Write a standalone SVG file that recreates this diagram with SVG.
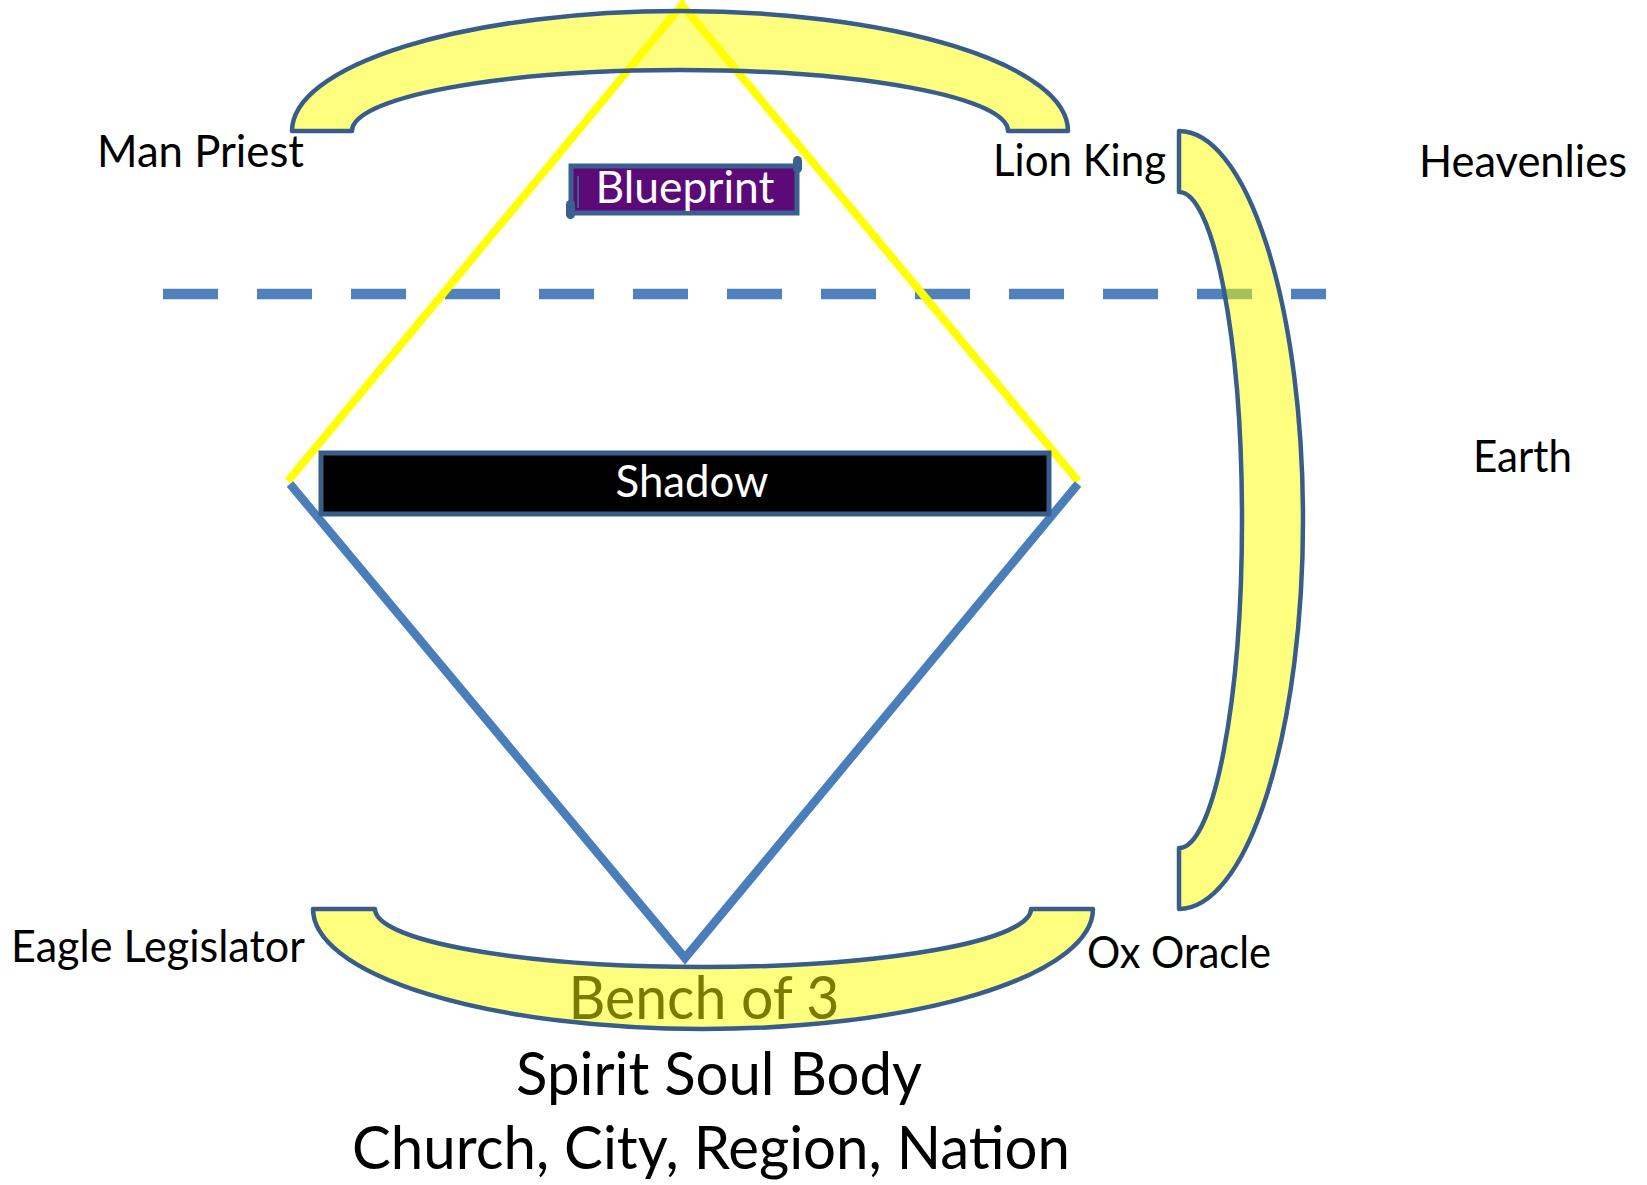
<svg xmlns="http://www.w3.org/2000/svg" width="1647" height="1185" viewBox="0 0 1647 1185">
<style>
  .arc { fill: #FFFF00; fill-opacity: 0.5; stroke: #385D8A; stroke-width: 4.5; stroke-linejoin: round; }
  .lbl { font-family: Lato, "Liberation Sans", sans-serif; font-size: 45px; fill: #000; }
  .big { font-family: Lato, "Liberation Sans", sans-serif; font-size: 60px; fill: #000; }
  .white { fill: #fff; }
</style>
<rect x="0" y="0" width="1647" height="1185" fill="#fff"/>
<g id="connectors">
  <line x1="163" y1="294" x2="1326" y2="294" stroke="#4F81BD" stroke-width="10.5" stroke-dasharray="55 39"/>
  <polyline points="288,481 682,5 1078,481" fill="none" stroke="#FFFF00" stroke-width="8"/>
  <polyline points="290,484 685,958 1078,484" fill="none" stroke="#4A7EBB" stroke-width="8.5"/>
</g>
<g id="arc-top">
  <path class="arc" d="M 292,131 A 388,120 0 0 1 1068,131 L 1008,131 A 328,61 0 0 0 352,131 Z"/>
</g>
<g id="arc-right">
  <path class="arc" d="M 1179,131 A 124,389 0 0 1 1179,909 L 1179,848 A 63,328 0 0 0 1179,192 Z"/>
</g>
<g id="arc-bottom">
  <path class="arc" d="M 313,909 A 390,120 0 0 0 1093,909 L 1031,909 A 328,58 0 0 1 375,909 Z"/>
  <text x="704" y="1019" text-anchor="middle" class="big" style="fill:#7A7A00" textLength="271" lengthAdjust="spacingAndGlyphs">Bench of 3</text>
</g>
<g id="shadow">
  <rect x="321" y="453" width="728" height="61" fill="#000" stroke="#385D8A" stroke-width="5"/>
  <text x="692" y="497" text-anchor="middle" class="lbl white" textLength="153" lengthAdjust="spacingAndGlyphs">Shadow</text>
</g>
<g id="blueprint">
  <rect x="571" y="166" width="226" height="47" fill="#5C0A78" stroke="#3B5F8E" stroke-width="5"/>
  <rect x="793" y="156" width="9" height="17" rx="4.5" fill="#3B5F8E"/>
  <rect x="566" y="200" width="9" height="19" rx="4.5" fill="#3B5F8E"/>
  <line x1="578" y1="176" x2="578" y2="208" stroke="#3B5F8E" stroke-width="2"/>
  <text x="685" y="203" text-anchor="middle" class="lbl white" textLength="179" lengthAdjust="spacingAndGlyphs">Blueprint</text>
</g>
<g id="labels">
  <text x="97" y="167" class="lbl" textLength="207" lengthAdjust="spacingAndGlyphs">Man Priest</text>
  <text x="993" y="176" class="lbl" textLength="173" lengthAdjust="spacingAndGlyphs">Lion King</text>
  <text x="1419" y="177" class="lbl" textLength="208" lengthAdjust="spacingAndGlyphs">Heavenlies</text>
  <text x="1473" y="472" class="lbl" textLength="99" lengthAdjust="spacingAndGlyphs">Earth</text>
  <text x="11" y="962" class="lbl" textLength="294" lengthAdjust="spacingAndGlyphs">Eagle Legislator</text>
  <text x="1087" y="968" class="lbl" textLength="184" lengthAdjust="spacingAndGlyphs">Ox Oracle</text>
  <text x="719" y="1095" text-anchor="middle" class="big" textLength="406" lengthAdjust="spacingAndGlyphs">Spirit Soul Body</text>
  <text x="711" y="1169" text-anchor="middle" class="big" textLength="718" lengthAdjust="spacingAndGlyphs">Church, City, Region, Nation</text>
</g>
</svg>
